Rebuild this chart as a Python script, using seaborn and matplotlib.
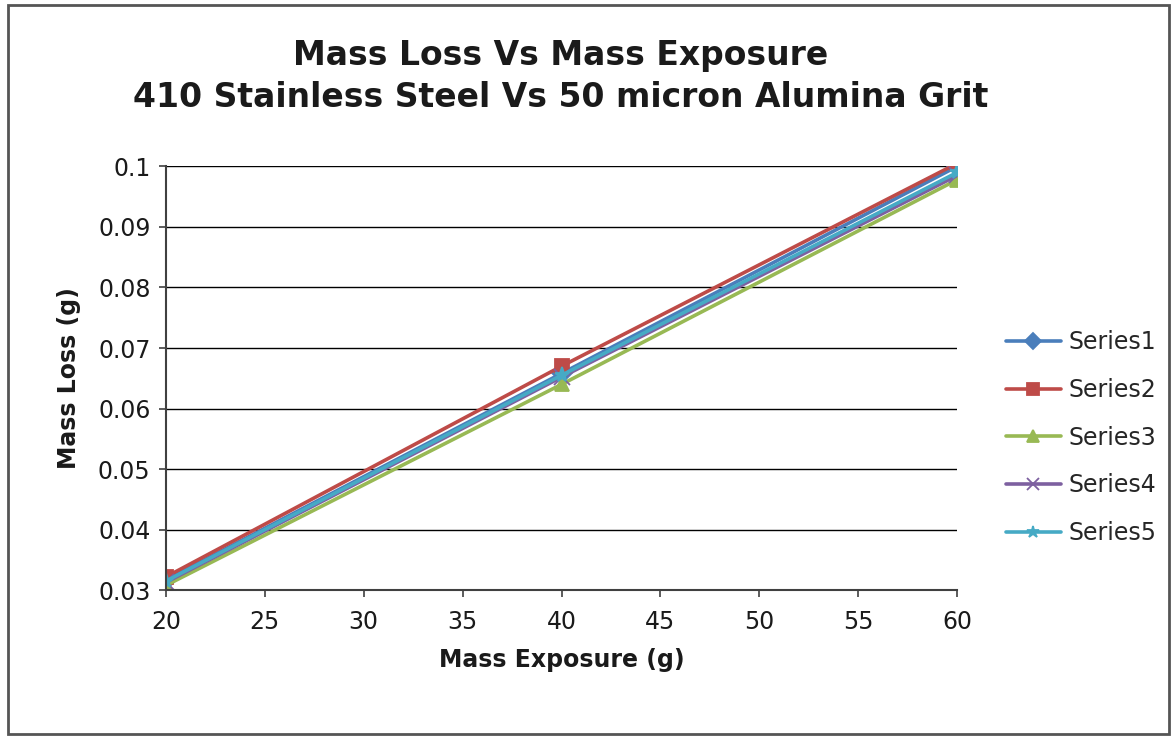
import matplotlib
matplotlib.use("Agg")
import matplotlib.pyplot as plt
import seaborn as sns
import pandas as pd
from matplotlib.patches import Rectangle

mass_exposure = [20, 40, 60]
series1 = [0.0317, 0.0658, 0.1000]
series2 = [0.0322, 0.0670, 0.1005]
series3 = [0.0308, 0.0640, 0.0978]
series4 = [0.0313, 0.0652, 0.0985]
series5 = [0.0315, 0.0655, 0.0990]
series_names = ["Series1", "Series2", "Series3", "Series4", "Series5"]
colors = ["#4A7EBB", "#BE4B48", "#98B954", "#7D60A0", "#46AAC5"]
markers = ["D", "s", "^", "x", "*"]

sns.set_theme(style="white")
plt.rcParams['font.family'] = ['DejaVu Sans']

fig = plt.figure(figsize=(11.76, 7.36), dpi=100)
ax = fig.add_axes([0.141, 0.198, 0.673, 0.576])

for name, vals, c, m in zip(series_names, [series1, series2, series3, series4, series5], colors, markers):
    df = pd.DataFrame({"x": mass_exposure, "y": vals})
    ms = 11 if m in ("x", "*") else 10
    sns.lineplot(data=df, x="x", y="y", ax=ax, color=c, marker=m, linewidth=2.6,
                 label=name, markeredgecolor=c, markersize=ms, markeredgewidth=1.3)

ax.set_xlim(20, 60)
ax.set_ylim(0.03, 0.1)
ax.set_xticks(range(20, 61, 5))
ax.set_yticks([0.03, 0.04, 0.05, 0.06, 0.07, 0.08, 0.09, 0.1])
ax.set_yticklabels(["0.03", "0.04", "0.05", "0.06", "0.07", "0.08", "0.09", "0.1"])
ax.yaxis.grid(True, color="#000000", linewidth=1.0)
ax.set_axisbelow(True)
for s in ["top", "right"]:
    ax.spines[s].set_visible(False)
for s in ["left", "bottom"]:
    ax.spines[s].set_color("#404040")
    ax.spines[s].set_linewidth(1.5)
ax.tick_params(axis="both", labelsize=17, labelcolor="#1a1a1a", direction="out", length=5, width=1.2,
               bottom=True, left=True, color="#404040")
ax.tick_params(axis="x", pad=9)
ax.tick_params(axis="y", pad=6)
ax.set_xlabel("Mass Exposure (g)", fontsize=17, fontweight="bold", labelpad=10, color="#1a1a1a")
ax.set_ylabel("Mass Loss (g)", fontsize=17, fontweight="bold", labelpad=12, color="#1a1a1a")

fig.text(0.477, 0.925, "Mass Loss Vs Mass Exposure", ha="center", va="center",
         fontsize=23.8, fontweight="bold", color="#1a1a1a")
fig.text(0.477, 0.868, "410 Stainless Steel Vs 50 micron Alumina Grit", ha="center", va="center",
         fontsize=23.8, fontweight="bold", color="#1a1a1a")

leg = ax.legend(loc="center left", bbox_to_anchor=(1.035, 0.36), frameon=False, fontsize=17,
                handlelength=2.3, labelspacing=1.0, handletextpad=0.35, markerscale=0.8)

fig.patches.append(Rectangle((0.007, 0.003), 0.987, 0.99, transform=fig.transFigure,
                             fill=False, edgecolor="#555555", linewidth=2))

fig.savefig("out.png", dpi=100)
